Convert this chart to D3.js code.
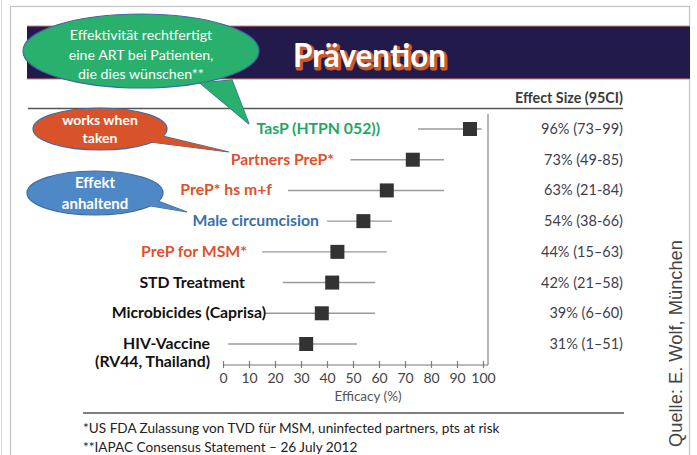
<!DOCTYPE html>
<html><head><meta charset="utf-8">
<script src="https://cdn.jsdelivr.net/npm/d3@7"></script>
<style>body{margin:0;background:#fff}svg{display:block}</style>
</head><body><svg id="c" width="697" height="455"></svg>
<script>
// ---- data ----
const studies = ["TasP (HTPN 052))", "Partners PreP*", "PreP* hs m+f", "Male circumcision", "PreP for MSM*", "STD Treatment", "Microbicides (Caprisa)", "HIV-Vaccine|(RV44, Thailand)"];
const estimate = [95, 73, 63, 54, 44, 42, 38, 32];
const ciLow = [75, 49, 25, 40, 15, 23, 16, 2];
const ciHigh = [99.5, 85, 85, 65, 63, 58.5, 58.5, 51.5];
const effectText = ["96% (73–99)", "73% (49-85)", "63% (21-84)", "54% (38-66)", "44% (15–63)", "42% (21–58)", "39% (6–60)", "31% (1–51)"];
const xTicks = [0, 10, 20, 30, 40, 50, 60, 70, 80, 90, 100];
const footnotes = ["*US FDA Zulassung von TVD für MSM, uninfected partners, pts at risk", "**IAPAC Consensus Statement – 26 July 2012"];
const bubbles = [
  {lines: ["Effektivität rechtfertigt", "eine ART bei Patienten,", "die dies wünschen**"]},
  {lines: ["works when", "taken"]},
  {lines: ["Effekt", "anhaltend"]}
];

// ---- layout / style ----
const labelColor = ["#1fa862", "#e0512b", "#e0512b", "#3b6eab", "#e0512b", "#111", "#111", "#111"];
const labelRight = [380, 334, 272, 319, 247, 245, 266, 210];
const svg = d3.select("#c");
const font = "Lato, 'Open Sans', sans-serif";

// outer frame
svg.append("rect").attr("x", 10.5).attr("y", 6.5).attr("width", 679).attr("height", 460)
  .attr("fill", "#fff").attr("stroke", "#c4c4c4").attr("stroke-width", 1.2);
svg.append("line").attr("x1", 1.5).attr("x2", 1.5).attr("y1", 0).attr("y2", 455).attr("stroke", "#d8d8d8");

// title bar
svg.append("rect").attr("x", 27).attr("y", 26).attr("width", 663).attr("height", 53).attr("fill", "#221a4b");
svg.append("line").attr("x1", 27).attr("x2", 690).attr("y1", 26).attr("y2", 26).attr("stroke", "#d9826a").attr("stroke-width", 1);
svg.append("line").attr("x1", 27).attr("x2", 690).attr("y1", 79).attr("y2", 79).attr("stroke", "#d9826a").attr("stroke-width", 1);
svg.append("text").attr("x", 294.5).attr("y", 68.5).text("Prävention")
  .attr("font-family", font).attr("font-weight", 700).attr("font-size", 31.5)
  .attr("fill", "#c9592b").attr("stroke", "#c9592b").attr("stroke-width", 3).attr("stroke-linejoin", "round");
svg.append("text").attr("x", 293).attr("y", 67).text("Prävention")
  .attr("font-family", font).attr("font-weight", 700).attr("font-size", 31.5).attr("fill", "#fff");

// header
svg.append("text").attr("x", 623).attr("y", 103).attr("text-anchor", "end").text("Effect Size (95CI)")
  .attr("font-family", font).attr("font-weight", 700).attr("font-size", 14.3).attr("fill", "#3a3a3a");
svg.append("line").attr("x1", 28).attr("x2", 623).attr("y1", 108.5).attr("y2", 108.5).attr("stroke", "#555").attr("stroke-width", 1.3);

// scales
const x = d3.scaleLinear().domain([0, 100]).range([223, 483]);
const y = d3.scalePoint().domain(studies).range([129, 344]);

// plot frame right line
svg.append("line").attr("x1", 488).attr("x2", 488).attr("y1", 114).attr("y2", 365).attr("stroke", "#888").attr("stroke-width", 1.2);

// axis
const axis = d3.axisBottom(x).tickValues(xTicks).tickSizeInner(4).tickSizeOuter(0).tickPadding(4);
const gA = svg.append("g").attr("transform", "translate(0,365)").call(axis);
gA.select(".domain").remove();
gA.append("line").attr("x1", 223).attr("x2", 488).attr("y1", 0).attr("y2", 0).attr("stroke", "#777").attr("stroke-width", 1.2);
gA.selectAll(".tick line").attr("y1", -4).attr("y2", 3).attr("stroke", "#5f83b3").attr("stroke-width", 1.2);
gA.selectAll(".tick text").attr("font-family", font).attr("font-size", 14).attr("fill", "#444");
svg.append("text").attr("x", 368).attr("y", 401).attr("text-anchor", "middle").text("Efficacy (%)")
  .attr("font-family", font).attr("font-size", 13.5).attr("fill", "#555");

// CI lines
const idx = d3.range(studies.length);
svg.append("g").selectAll("line").data(idx).join("line")
  .attr("x1", i => x(ciLow[i])).attr("x2", i => x(ciHigh[i]))
  .attr("y1", i => y(studies[i])).attr("y2", i => y(studies[i]))
  .attr("stroke", "#9a9a9a").attr("stroke-width", 1.4);
// squares
svg.append("g").selectAll("rect").data(idx).join("rect")
  .attr("x", i => x(estimate[i]) - 7).attr("y", i => y(studies[i]) - 7)
  .attr("width", 14).attr("height", 14).attr("fill", "#333");

// labels
const lab = svg.append("g").selectAll("text").data(idx).join("text")
  .attr("text-anchor", "end").attr("font-family", font).attr("font-weight", 700).attr("font-size", 15.8)
  .attr("fill", i => labelColor[i]);
lab.each(function(i) {
  const parts = studies[i].split("|");
  const t = d3.select(this);
  parts.forEach((p, k) => {
    t.append("tspan").attr("x", labelRight[i]).attr("y", y(studies[i]) + 5 + k * 18).text(p);
  });
});

// effect size text
svg.append("g").selectAll("text").data(idx).join("text")
  .attr("x", 623).attr("y", i => y(studies[i]) + 5).attr("text-anchor", "end")
  .attr("font-family", font).attr("font-size", 14.5).attr("fill", "#3e3e4e").text(i => effectText[i]);

// footer
svg.append("line").attr("x1", 83).attr("x2", 624).attr("y1", 413).attr("y2", 413).attr("stroke", "#555").attr("stroke-width", 1.3);
svg.append("g").selectAll("text").data(footnotes).join("text")
  .attr("x", 83).attr("y", (d, i) => 433 + i * 19).text(d => d)
  .attr("font-family", font).attr("font-size", 13.6).attr("fill", "#222");

// source
svg.append("text").attr("transform", "translate(682,447) rotate(-90)").text("Quelle: E. Wolf, München")
  .attr("font-family", "'Liberation Sans', Arial, sans-serif").attr("font-size", 18.3).attr("fill", "#444");

// speech bubbles
function bubble(cx, cy, rx, ry, b1, b2, tip, fill, lines, fs, fw, lh, ty) {
  const g = svg.append("g");
  g.append("path").attr("d", `M${b1[0]},${b1[1]} L${tip[0]},${tip[1]} L${b2[0]},${b2[1]} Z`)
    .attr("fill", fill).attr("stroke", "#3f6aa6").attr("stroke-width", 1.2);
  g.append("ellipse").attr("cx", cx).attr("cy", cy).attr("rx", rx).attr("ry", ry)
    .attr("fill", fill).attr("stroke", "#3f6aa6").attr("stroke-width", 1.2);
  g.append("path").attr("d", `M${b1[0]},${b1[1]} L${tip[0]},${tip[1]} L${b2[0]},${b2[1]} Z`)
    .attr("fill", fill).attr("stroke", "none");
  g.append("ellipse").attr("cx", cx).attr("cy", cy).attr("rx", rx - 1).attr("ry", ry - 1).attr("fill", fill);
  g.selectAll("text").data(lines).join("text")
    .attr("x", cx).attr("y", (d, i) => ty + i * lh).attr("text-anchor", "middle")
    .attr("font-family", font).attr("font-size", fs).attr("font-weight", fw).attr("fill", "#fff").text(d => d);
}
bubble(141, 51, 118, 37, [200, 83], [232, 80], [249, 124], "#28b06c", bubbles[0].lines, 14.2, 400, 19.5, 40);
bubble(100, 129, 67, 21, [150, 142], [162, 136], [229, 152], "#d9532a", bubbles[1].lines, 14, 700, 18, 125);
bubble(95, 193, 68, 22, [145, 205], [155, 200], [187, 212], "#4f88c6", bubbles[2].lines, 15, 700, 21, 188);
</script></body></html>
